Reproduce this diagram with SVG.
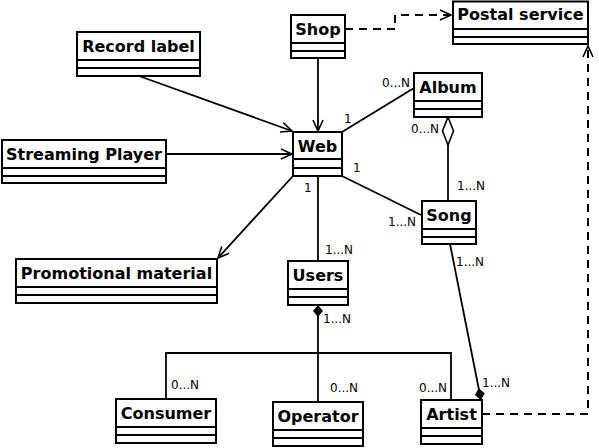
<svg xmlns="http://www.w3.org/2000/svg" width="599" height="448" viewBox="0 0 599 448">
<style>
.box{fill:#fff;stroke:#000;stroke-width:2}
.div{stroke:#000;stroke-width:2}
.t{font-family:"DejaVu Sans",sans-serif;font-weight:bold;font-size:16px;text-anchor:middle;fill:#000}
.m{font-family:"DejaVu Sans",sans-serif;font-size:12px;fill:#000}
.c{fill:none;stroke:#000;stroke-width:1.8}
.d{fill:none;stroke:#000;stroke-width:2;stroke-dasharray:8,6}
</style>
<defs>
<marker id="arr" markerUnits="userSpaceOnUse" viewBox="0 0 14 12" markerWidth="14" markerHeight="12" refX="12" refY="6" orient="auto">
<path d="M1,1 L12,6 L1,11" fill="none" stroke="#000" stroke-width="1.6"/>
</marker>
<marker id="fdia" markerUnits="userSpaceOnUse" viewBox="0 0 12 10" markerWidth="12" markerHeight="10" refX="0" refY="5" orient="auto">
<path d="M0,5 L6,0 L12,5 L6,10 Z" fill="#000"/>
</marker>
<marker id="odia" markerUnits="userSpaceOnUse" viewBox="-1 -1 30 14" markerWidth="30" markerHeight="14" refX="0" refY="6" orient="auto">
<path d="M0,6 L14,0.5 L28,6 L14,11.5 Z" fill="#fff" stroke="#000" stroke-width="1.6"/>
</marker>
</defs>

<g id="connectors">
<path class="c" d="M318,58 V131" marker-end="url(#arr)"/>
<path class="c" d="M139,76 L292,131" marker-end="url(#arr)"/>
<path class="c" d="M166,154 H292" marker-end="url(#arr)"/>
<path class="c" d="M293,176 L218,258" marker-end="url(#arr)"/>
<path class="c" d="M318,176 V261"/>
<path class="c" d="M342,132 L414,88"/>
<path class="c" d="M342,176 L421,215"/>
<path class="c" d="M448,117 V201" marker-start="url(#odia)"/>
<path class="c" d="M481,400 L450,244" marker-start="url(#fdia)"/>
<path class="c" d="M318,305 V353" marker-start="url(#fdia)"/>
<path class="c" d="M166,399 V353 H451 V400 M318,353 V402"/>
<path class="d" d="M345,29 H395 V15 H451" marker-end="url(#arr)"/>
<path class="d" d="M482,414 H588 V46" marker-end="url(#arr)"/>
<text class="m" x="382" y="87">0...N</text>
<text class="m" x="344" y="123">1</text>
<text class="m" x="411" y="133">0...N</text>
<text class="m" x="353" y="172">1</text>
<text class="m" x="457" y="190">1...N</text>
<text class="m" x="304" y="192">1</text>
<text class="m" x="388" y="226">1...N</text>
<text class="m" x="325" y="254">1...N</text>
<text class="m" x="456" y="266">1...N</text>
<text class="m" x="323" y="323">1...N</text>
<text class="m" x="171" y="389">0...N</text>
<text class="m" x="330" y="392">0...N</text>
<text class="m" x="419" y="392">0...N</text>
<text class="m" x="482" y="387">1...N</text>
</g>

<g id="postal-service">
<rect class="box" x="453" y="1.5" width="135" height="42.5"/>
<path class="div" d="M453,29 H588 M453,37 H588"/>
<text class="t" x="520.5" y="19.5">Postal service</text>
</g>
<g id="shop">
<rect class="box" x="291" y="15" width="54" height="43"/>
<path class="div" d="M291,43 H345 M291,51 H345"/>
<text class="t" x="318" y="34.5">Shop</text>
</g>
<g id="record-label">
<rect class="box" x="77" y="32" width="123" height="44"/>
<path class="div" d="M77,60 H200 M77,68 H200"/>
<text class="t" x="138.5" y="51.5">Record label</text>
</g>
<g id="streaming-player">
<rect class="box" x="2" y="140" width="164" height="43"/>
<path class="div" d="M2,168 H166 M2,176 H166"/>
<text class="t" x="84" y="159.5">Streaming Player</text>
</g>
<g id="web">
<rect class="box" x="293" y="132" width="49" height="44"/>
<path class="div" d="M293,159 H342 M293,168 H342"/>
<text class="t" x="317.5" y="152">Web</text>
</g>
<g id="album">
<rect class="box" x="414" y="73" width="68" height="44"/>
<path class="div" d="M414,101 H482 M414,109 H482"/>
<text class="t" x="448" y="92.5">Album</text>
</g>
<g id="song">
<rect class="box" x="422" y="201" width="54" height="43"/>
<path class="div" d="M422,229 H476 M422,237 H476"/>
<text class="t" x="449" y="220.5">Song</text>
</g>
<g id="promotional-material">
<rect class="box" x="16" y="259" width="201" height="44"/>
<path class="div" d="M16,287 H217 M16,295 H217"/>
<text class="t" x="116.5" y="278.5">Promotional material</text>
</g>
<g id="users">
<rect class="box" x="288" y="261" width="60" height="44"/>
<path class="div" d="M288,289 H348 M288,297 H348"/>
<text class="t" x="318" y="280.5">Users</text>
</g>
<g id="consumer">
<rect class="box" x="116" y="399" width="100" height="44"/>
<path class="div" d="M116,427 H216 M116,435 H216"/>
<text class="t" x="166" y="418.5">Consumer</text>
</g>
<g id="operator">
<rect class="box" x="273" y="402" width="90" height="44"/>
<path class="div" d="M273,430 H363 M273,438 H363"/>
<text class="t" x="318" y="421.5">Operator</text>
</g>
<g id="artist">
<rect class="box" x="421" y="400" width="61" height="44"/>
<path class="div" d="M421,428 H482 M421,436 H482"/>
<text class="t" x="451.5" y="419.5">Artist</text>
</g>
</svg>
